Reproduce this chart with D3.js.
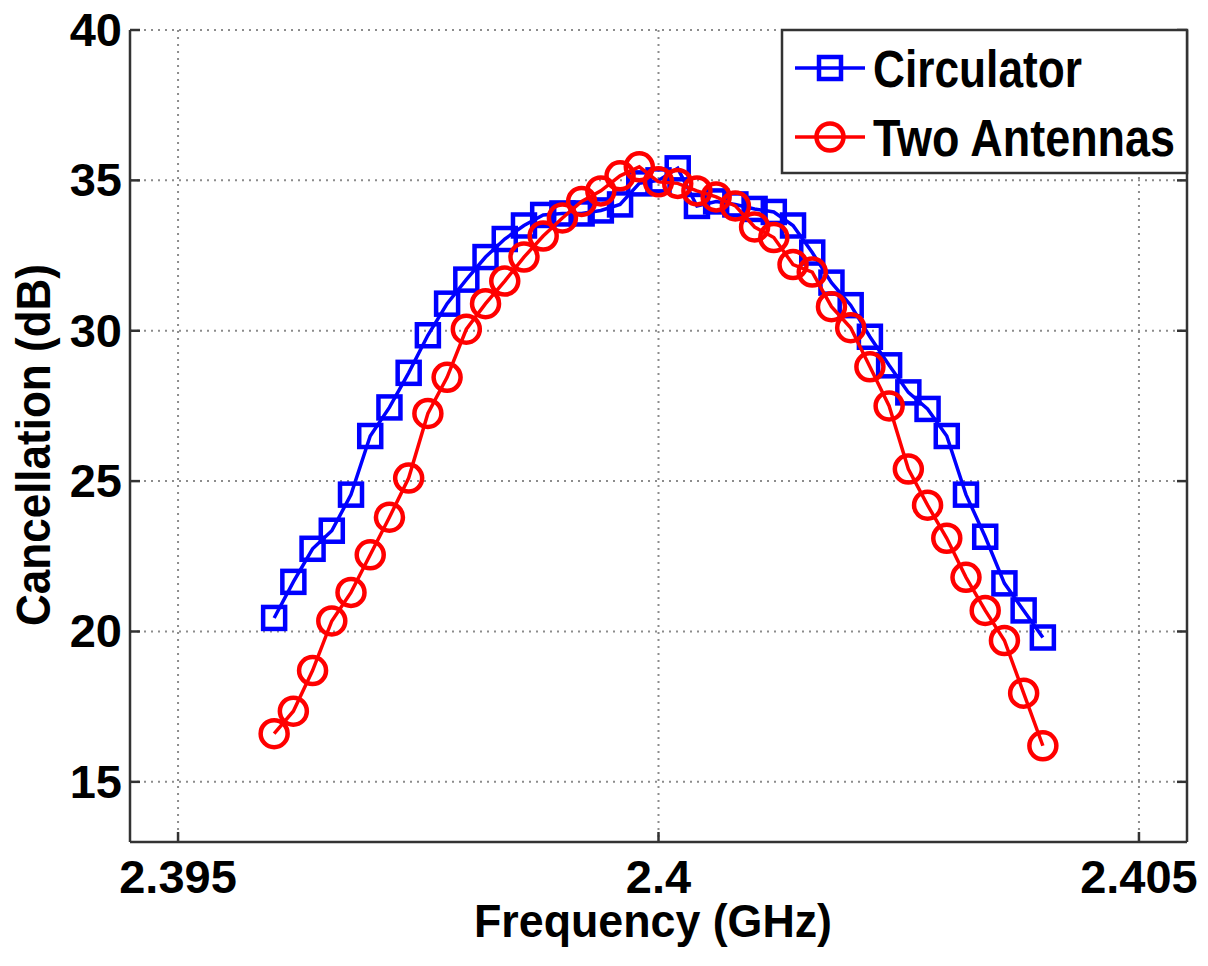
<!DOCTYPE html>
<html>
<head>
<meta charset="utf-8">
<script src="https://cdn.jsdelivr.net/npm/d3@7"></script>
<style>
  body { margin: 0; background: #fff; }
  text { font-family: "Liberation Sans", Arial, sans-serif; font-weight: bold; fill: #000; }
</style>
</head>
<body>
<div id="chart"></div>
<script>
// ==========================
// Data
// ==========================
const freqs = [
  2.3960, 2.3962, 2.3964, 2.3966, 2.3968, 2.3970, 2.3972, 2.3974, 2.3976, 2.3978,
  2.3980, 2.3982, 2.3984, 2.3986, 2.3988, 2.3990, 2.3992, 2.3994, 2.3996, 2.3998,
  2.4000, 2.4002, 2.4004, 2.4006, 2.4008, 2.4010, 2.4012, 2.4014, 2.4016, 2.4018,
  2.4020, 2.4022, 2.4024, 2.4026, 2.4028, 2.4030, 2.4032, 2.4034, 2.4036, 2.4038,
  2.4040
];
const circulator = [
  20.45, 21.65, 22.75, 23.35, 24.55, 26.5, 27.45, 28.6, 29.85, 30.9,
  31.7, 32.45, 33.05, 33.5, 33.85, 33.9, 33.9, 34.0, 34.2, 34.9,
  35.0, 35.4, 34.15, 34.3, 34.2, 34.05, 33.95, 33.5, 32.6, 31.6,
  30.85, 29.8, 28.85, 27.95, 27.4, 26.5, 24.55, 23.15, 21.6, 20.7,
  19.8
];
const twoAntennas = [
  16.6, 17.35, 18.7, 20.35, 21.3, 22.55, 23.8, 25.1, 27.25, 28.45,
  30.05, 30.9, 31.65, 32.45, 33.15, 33.75, 34.3, 34.65, 35.15, 35.45,
  34.95, 34.9, 34.65, 34.45, 34.15, 33.45, 33.1, 32.2, 31.95, 30.8,
  30.1, 28.8, 27.5, 25.4, 24.2, 23.1, 21.8, 20.7, 19.7, 17.95,
  16.2
];
const xTicks = [2.395, 2.4, 2.405];
const yTicks = [15, 20, 25, 30, 35, 40];
const seriesNames = ["Circulator", "Two Antennas"];

// ==========================
// Dimensions
// ==========================
const width = 1208;
const height = 966;
const plotLeft = 130, plotRight = 1187, plotTop = 30, plotBottom = 842;

const svg = d3.select("#chart").append("svg")
  .attr("width", width)
  .attr("height", height);

const x = d3.scaleLinear().domain([2.3945, 2.4055]).range([plotLeft, plotRight]);
const y = d3.scaleLinear().domain([13, 40]).range([plotBottom, plotTop]);

// ==========================
// Grid
// ==========================
const grid = svg.append("g").attr("stroke", "#8c8c8c").attr("stroke-width", 2)
  .attr("stroke-dasharray", "2,5");

grid.selectAll(".gx").data(xTicks).enter().append("line")
  .attr("x1", d => x(d)).attr("x2", d => x(d))
  .attr("y1", plotTop).attr("y2", plotBottom);

grid.selectAll(".gy").data(yTicks).enter().append("line")
  .attr("x1", plotLeft).attr("x2", plotRight)
  .attr("y1", d => y(d)).attr("y2", d => y(d));

// ==========================
// Axes (MATLAB style, ticks inside)
// ==========================
const frame = svg.append("g").attr("stroke", "#333").attr("stroke-width", 2.5).attr("fill", "none");
frame.append("line").attr("x1", plotLeft).attr("x2", plotLeft).attr("y1", plotTop).attr("y2", plotBottom);
frame.append("line").attr("x1", plotLeft).attr("x2", plotRight).attr("y1", plotBottom).attr("y2", plotBottom);
frame.append("line").attr("x1", plotRight).attr("x2", plotRight).attr("y1", plotTop).attr("y2", plotBottom);

const tickLen = 10;
xTicks.forEach(t => {
  frame.append("line").attr("x1", x(t)).attr("x2", x(t)).attr("y1", plotBottom).attr("y2", plotBottom - tickLen);
});
yTicks.forEach(t => {
  frame.append("line").attr("x1", plotLeft).attr("x2", plotLeft + tickLen).attr("y1", y(t)).attr("y2", y(t));
  frame.append("line").attr("x1", plotRight).attr("x2", plotRight - tickLen).attr("y1", y(t)).attr("y2", y(t));
});

// tick labels
svg.selectAll(".xl").data(xTicks).enter().append("text")
  .attr("x", d => x(d)).attr("y", 893)
  .attr("text-anchor", "middle").attr("font-size", 47)
  .text(d => d3.format("")(d));

svg.selectAll(".yl").data(yTicks).enter().append("text")
  .attr("x", 122).attr("y", d => y(d) + 16)
  .attr("text-anchor", "end").attr("font-size", 47)
  .text(d => d);

// axis titles
svg.append("text")
  .attr("x", 653).attr("y", 937)
  .attr("text-anchor", "middle").attr("font-size", 47)
  .attr("textLength", 358).attr("lengthAdjust", "spacingAndGlyphs")
  .text("Frequency (GHz)");

svg.append("text")
  .attr("transform", "translate(50,445) rotate(-90)")
  .attr("text-anchor", "middle").attr("font-size", 48)
  .attr("textLength", 362).attr("lengthAdjust", "spacingAndGlyphs")
  .text("Cancellation (dB)");

// ==========================
// Series
// ==========================
const line = d3.line()
  .x((d, i) => x(freqs[i]))
  .y(d => y(d));

function drawSquares(g, vals, cx, cy) {
  g.selectAll(".sq").data(vals).enter().append("rect")
    .attr("x", (d, i) => cx(d, i) - 11)
    .attr("y", (d, i) => cy(d, i) - 11)
    .attr("width", 22).attr("height", 22)
    .attr("fill", "none").attr("stroke", "#0000ff").attr("stroke-width", 4.5);
}
function drawCircles(g, vals, cx, cy) {
  g.selectAll(".ci").data(vals).enter().append("circle")
    .attr("cx", (d, i) => cx(d, i))
    .attr("cy", (d, i) => cy(d, i))
    .attr("r", 13.5)
    .attr("fill", "none").attr("stroke", "#ff0000").attr("stroke-width", 4.5);
}

const gBlue = svg.append("g");
gBlue.append("path").datum(circulator)
  .attr("d", line).attr("fill", "none")
  .attr("stroke", "#0000ff").attr("stroke-width", 3.5);
drawSquares(gBlue, circulator, (d, i) => x(freqs[i]), d => y(d));

const gRed = svg.append("g");
gRed.append("path").datum(twoAntennas)
  .attr("d", line).attr("fill", "none")
  .attr("stroke", "#ff0000").attr("stroke-width", 3.5);
drawCircles(gRed, twoAntennas, (d, i) => x(freqs[i]), d => y(d));

// ==========================
// Legend
// ==========================
const legend = svg.append("g");
legend.append("rect")
  .attr("x", 782).attr("y", plotTop).attr("width", plotRight - 782).attr("height", 143)
  .attr("fill", "#fff").attr("stroke", "#333").attr("stroke-width", 2.5);

const legendRows = [
  { name: seriesNames[0], color: "#0000ff", cy: 68, len: 209 },
  { name: seriesNames[1], color: "#ff0000", cy: 137, len: 302 }
];
legendRows.forEach((r, i) => {
  legend.append("line")
    .attr("x1", 795).attr("x2", 865).attr("y1", r.cy).attr("y2", r.cy)
    .attr("stroke", r.color).attr("stroke-width", 3.5);
  if (i === 0) drawSquares(legend, [r.cy], () => 830, d => d);
  else drawCircles(legend, [r.cy], () => 830, d => d);
  legend.append("text")
    .attr("x", 873).attr("y", r.cy + 19)
    .attr("font-size", 51)
    .attr("textLength", r.len).attr("lengthAdjust", "spacingAndGlyphs")
    .text(r.name);
});
</script>
</body>
</html>
